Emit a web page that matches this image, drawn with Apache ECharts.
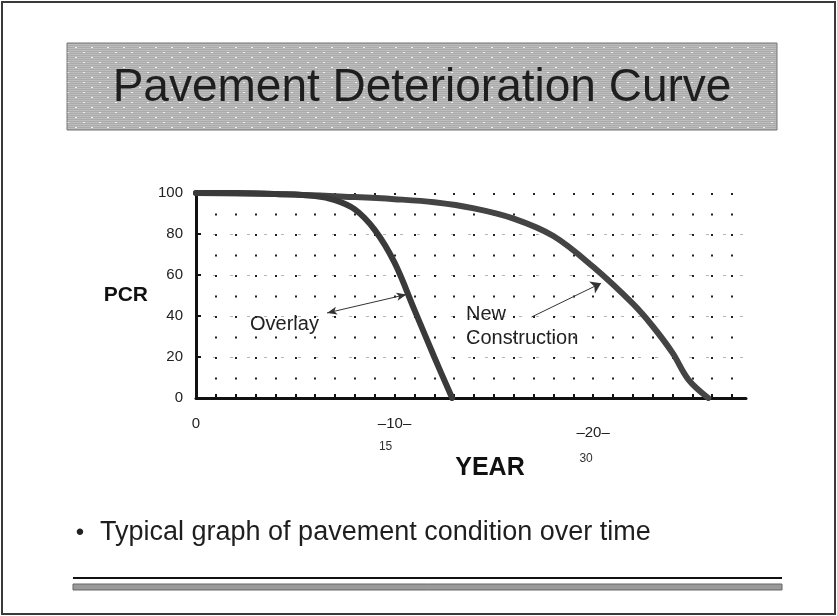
<!DOCTYPE html>
<html>
<head>
<meta charset="utf-8">
<script src="https://cdn.jsdelivr.net/npm/echarts@6/dist/echarts.min.js"></script>
<style>
html,body{margin:0;padding:0;background:#fff;}
#chart{width:837px;height:616px;}
</style>
</head>
<body>
<div id="chart"></div>
<script>
// ---- data ----
const titleText = 'Pavement Deterioration Curve';
const bulletText = 'Typical graph of pavement condition over time';
const yTicks = [0, 20, 40, 60, 80, 100];
const xLabelMain = {0: '0', 10: '10', 20: '20'};
const xLabelSub = {10: '15', 20: '30'};
const overlayYears = [0, 2, 4, 6, 7, 8, 9, 10, 11, 12, 12.9];
const overlayPCR   = [100, 100, 99.5, 98.5, 96.5, 92, 82, 66, 43, 20, 0];
const newYears = [0, 4, 8, 10, 12, 14, 16, 18, 20, 22, 23, 24, 24.8, 25.8];
const newPCR   = [100, 99.5, 98, 97, 95.5, 92.5, 87.5, 79, 64, 46, 35, 22, 9, 0];
const overlayArrow = [[6.6, 41.5], [10.6, 50.5]];
const newArrow = [[16.9, 39.5], [20.4, 56]];
const overlayLabelPos = [2.72, 36];
const newLabelPos = [13.6, 35];

// ---- build ----
function zip(a, b) { return a.map((v, i) => [v, b[i]]); }

function makePattern() {
  const c = document.createElement('canvas');
  c.width = 16; c.height = 10;
  const g = c.getContext('2d');
  g.fillStyle = '#ababab'; g.fillRect(0, 0, 16, 10);
  g.fillStyle = '#bdbdbd';
  for (let y = 0; y < 10; y += 2) g.fillRect(0, y, 16, 1);
  g.fillStyle = '#f2f2f2';
  g.fillRect(3, 2, 2, 1);
  g.fillRect(11, 7, 2, 1);
  return c;
}

const chart = echarts.init(document.getElementById('chart'), null, {renderer: 'canvas'});
const font = '"Liberation Sans", Arial, sans-serif';

const option = {
  animation: false,
  backgroundColor: '#fff',
  textStyle: {fontFamily: font},
  grid: {left: 196, top: 193, width: 550, height: 205, containLabel: false},
  xAxis: [{
    type: 'value', min: 0, max: 27.7, interval: 1,
    name: 'YEAR', nameLocation: 'middle', nameGap: 58, nameMoveOverlap: false,
    nameTextStyle: {fontSize: 25, fontWeight: 'bold', color: '#111', padding: [0, 0, 0, 38], fontFamily: font},
    axisLine: {show: true, lineStyle: {color: '#111', width: 3}},
    axisTick: {show: true, inside: true, length: 4, lineStyle: {color: '#111', width: 2}},
    splitLine: {show: true, showMaxLine: false, showMinLine: false, lineStyle: {color: '#222', width: 2, type: [2, 18.5]}},
    axisLabel: {
      showMaxLabel: false, margin: 18, color: '#222',
      formatter: function (v) {
        if (v === 0) return '{z|0}';
        if (v === 10) return '{a|–' + xLabelMain[10] + '–}\n{s|' + xLabelSub[10] + '}';
        if (v === 20) return '{c|–' + xLabelMain[20] + '–}\n{t|' + xLabelSub[20] + '}';
        return '';
      },
      rich: {
        z: {fontSize: 15, color: '#222', fontFamily: font, lineHeight: 16},
        a: {fontSize: 15, color: '#222', fontFamily: font, lineHeight: 16},
        c: {fontSize: 15, color: '#222', fontFamily: font, lineHeight: 34},
        s: {fontSize: 12, color: '#333', fontFamily: font, lineHeight: 30, padding: [0, 18, 0, 0]},
        t: {fontSize: 12, color: '#333', fontFamily: font, lineHeight: 18, padding: [0, 14, 0, 0]}
      }
    }
  }],
  yAxis: [{
    type: 'value', min: 0, max: 100, interval: 20,
    name: 'PCR', nameLocation: 'middle', nameGap: 48, nameRotate: 0, nameMoveOverlap: false,
    nameTextStyle: {fontSize: 21, fontWeight: 'bold', color: '#111', align: 'right', verticalAlign: 'middle', padding: [10, 0, 0, 0], fontFamily: font},
    axisLine: {show: true, lineStyle: {color: '#111', width: 3}},
    axisTick: {show: true, inside: true, length: 5, lineStyle: {color: '#111', width: 2}},
    splitLine: {show: true, showMaxLine: false, showMinLine: false, lineStyle: {color: '#b5b5b5', width: 1, type: [3, 14]}},
    axisLabel: {
      margin: 13, color: '#222', fontSize: 15, fontFamily: font,
      formatter: function (v) { return yTicks.indexOf(v) >= 0 ? String(v) : ''; }
    }
  }],
  series: [
    {
      name: 'Overlay', type: 'line', data: zip(overlayYears, overlayPCR),
      smooth: 0.35, symbol: 'none', z: 5,
      lineStyle: {color: '#3a3a3a', width: 6, cap: 'round'},
      markLine: {
        silent: true, symbol: ['arrow', 'arrow'], symbolSize: [6, 10],
        lineStyle: {color: '#333', width: 1, type: 'solid'},
        label: {show: false},
        data: [[{coord: overlayArrow[0]}, {coord: overlayArrow[1]}]]
      },
      markPoint: {
        silent: true, symbol: 'circle', symbolSize: 0,
        data: [{coord: overlayLabelPos, value: 'Overlay',
          label: {show: true, position: 'right', distance: 0, formatter: 'Overlay',
            fontSize: 20, color: '#222', fontFamily: font}}]
      }
    },
    {
      name: 'New Construction', type: 'line', data: zip(newYears, newPCR),
      smooth: 0.35, symbol: 'none', z: 4,
      lineStyle: {color: '#444', width: 6, cap: 'round'},
      markLine: {
        silent: true, symbol: ['none', 'arrow'], symbolSize: 10,
        lineStyle: {color: '#333', width: 1, type: 'solid'},
        label: {show: false},
        data: [[{coord: newArrow[0]}, {coord: newArrow[1]}]]
      },
      markPoint: {
        silent: true, symbol: 'circle', symbolSize: 0,
        data: [{coord: newLabelPos, value: 'New Construction',
          label: {show: true, position: 'right', distance: 0, formatter: 'New\nConstruction',
            fontSize: 20, lineHeight: 24, color: '#222', fontFamily: font}}]
      }
    }
  ],
  graphic: [
    {type: 'rect', shape: {x: 2, y: 2, width: 833, height: 612}, style: {fill: 'none', stroke: '#3a3a3a', lineWidth: 2}, z: -10},
    {type: 'rect', shape: {x: 67, y: 43, width: 710, height: 87}, style: {fill: {image: makePattern(), repeat: 'repeat'}, stroke: '#777', lineWidth: 1}, z: -5},
    {type: 'text', x: 422, y: 88, style: {text: titleText, font: '46px ' + font, fill: '#1e1e1e', textAlign: 'center', textVerticalAlign: 'middle'}, z: 10},
    {type: 'text', x: 80, y: 533, style: {text: '•', font: '24px ' + font, fill: '#222', textAlign: 'center', textVerticalAlign: 'middle'}},
    {type: 'text', x: 100, y: 533, style: {text: bulletText, font: '27px ' + font, fill: '#1e1e1e', textAlign: 'left', textVerticalAlign: 'middle'}},
    {type: 'rect', shape: {x: 73, y: 577, width: 709, height: 2}, style: {fill: '#111'}},
    {type: 'rect', shape: {x: 73, y: 584, width: 709, height: 6}, style: {fill: '#9a9a9a', stroke: '#666', lineWidth: 1}}
  ]
};
chart.setOption(option);
</script>
</body>
</html>
